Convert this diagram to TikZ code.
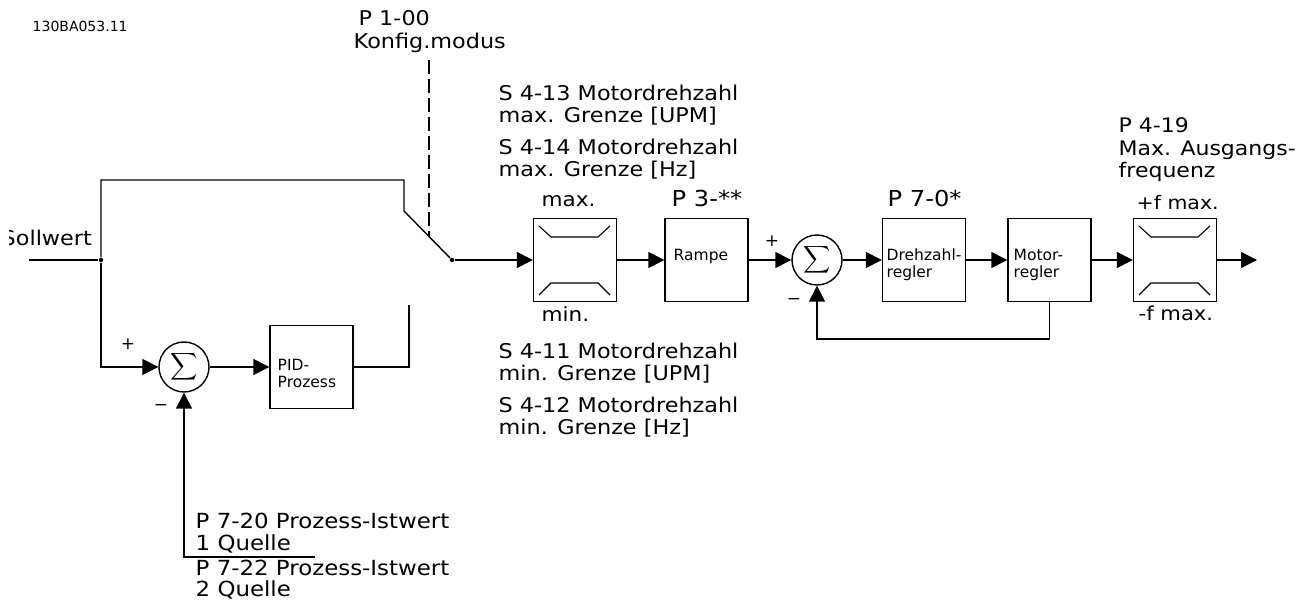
\documentclass[tikz,border=0pt]{standalone}
\usepackage{fontspec}
\usepackage{xcolor}
\usepackage{tikz}
\usetikzlibrary{arrows.meta, positioning, calc}
\newfontfamily\labelfont[FakeStretch=1.1]{DejaVu Sans}
\newfontfamily\blockfont{DejaVu Sans}
\newcommand{\sumsign}{\scalebox{1.9}{$\displaystyle\sum$}}

\begin{document}
\begin{tikzpicture}[
    x=1pt, y=-1pt,
    line width=1.4pt,
    block/.style={draw, minimum width=83pt, minimum height=83pt, inner sep=0pt},
    sumcircle/.style={draw, circle, minimum size=50pt, inner sep=0pt},
    dot/.style={fill, circle, minimum size=4.5pt, inner sep=0pt},
    arrow/.style={-{Triangle[length=16pt, width=16pt]}},
    lbl/.style={font=\labelfont\fontsize{#1}{22.7}\selectfont, align=left, inner sep=0pt, anchor=base west},
    lbl/.default=20.3,
    blocktext/.style={font=\blockfont\fontsize{15.5}{17}\selectfont, align=left, inner sep=0pt, anchor=west},
    sign/.style={font=\blockfont\fontsize{17}{17}\selectfont, inner sep=0pt}
]
    \useasboundingbox (0,0) rectangle (1296,601);

    % blocks
    \node[block] (pid) at (311.5,367) {};
    \node[block] (lima) at (575,260) {};
    \node[block] (rampe) at (706.5,260) {};
    \node[block] (dreh) at (924,260) {};
    \node[block] (motor) at (1049.5,260) {};
    \node[block] (limb) at (1175,260) {};
    \node[sumcircle] (suma) at (184,367) {\sumsign};
    \node[sumcircle] (sumb) at (817,260) {\sumsign};

    \node[blocktext] (pidtext) at (277,373) {PID-\\Prozess};
    \node[blocktext] (ramptext) at (673,256) {Rampe};
    \node[blocktext] (drehtext) at (886,265) {Drehzahl-\\regler};
    \node[blocktext] (motortext) at (1013,265) {Motor-\\regler};

    % limiter marks
    \foreach \lim in {lima, limb} {
        \draw[line width=1.1pt] ($(\lim.center)+(-36,-34)$) -- ++(12,11) -- ++(47,0) -- ++(12,-11);
        \draw[line width=1.1pt] ($(\lim.center)+(-36,35)$) -- ++(12,-12) -- ++(47,0) -- ++(12,12);
    }

    % switch
    \node[dot] (split) at (101,260) {};
    \node[dot] (swdot) at (452,260) {};
    \coordinate (input) at (29,260);
    \coordinate (swtop) at (404,180);
    \coordinate (swknee) at (404,211);
    \coordinate (dashtop) at (429,60);
    \coordinate (dashend) at (429,236);
    \coordinate (pidend) at (409,305);
    \coordinate (fbknee) at (817,339);
    \coordinate (istend) at (315,557);
    \coordinate (output) at (1257,260);

    \draw (input) -- (split);
    \draw (split) |- (swtop) -- (swknee) -- (swdot);
    \draw[dashed, dash pattern=on 14pt off 5pt, line width=1.2pt] (dashtop) -- (dashend);
    \draw[arrow] (swdot) -- (lima);
    \draw[arrow] (lima) -- (rampe);
    \draw[arrow] (rampe) -- (sumb);
    \draw[arrow] (sumb) -- (dreh);
    \draw[arrow] (dreh) -- (motor);
    \draw[arrow] (motor) -- (limb);
    \draw[arrow] (limb) -- (output);
    \draw[arrow] (split) |- (suma);
    \draw[arrow] (suma) -- (pid);
    \draw (pid) -| (pidend);
    \draw[arrow] (motor.south) |- (fbknee) -- (sumb.south);
    \draw[arrow] (istend) -| (suma.south);

    % labels
    \node[lbl, font=\blockfont\fontsize{14}{14}\selectfont] (docid) at (32,32) {130BA053.11};
    \node[lbl, anchor=north west] (konfig) at (353,10) {\hspace*{5pt}P 1-00\\Konfig.modus};
    \node[lbl, anchor=north west] (grenzea) at (498,84) {S 4-13 Motordrehzahl\\max. Grenze [UPM]};
    \node[lbl, anchor=north west] (grenzeb) at (498,138) {S 4-14 Motordrehzahl\\max. Grenze [Hz]};
    \node[lbl=19.6] (maxtext) at (541,207) {max.};
    \node[lbl=19.6] (mintext) at (541,322) {min.};
    \node[lbl=22] (rampar) at (671,207) {P 3-**};
    \node[lbl=22] (drehpar) at (887,207) {P 7-0*};
    \node[lbl, anchor=north west] (grenzec) at (498,342) {S 4-11 Motordrehzahl\\min. Grenze [UPM]};
    \node[lbl, anchor=north west] (grenzed) at (498,396) {S 4-12 Motordrehzahl\\min. Grenze [Hz]};
    \node[lbl=20, anchor=north west] (freq) at (1118,117) {P 4-19\\Max. Ausgangs-\\frequenz};
    \node[lbl=18.6] (fmax) at (1136,210) {+f max.};
    \node[lbl=19.2] (fmin) at (1138,321) {-f max.};
    \node[lbl=20.8, anchor=north west] (istwa) at (195,512) {P 7-20 Prozess-Istwert\\1 Quelle};
    \node[lbl=20.8, anchor=north west, font=\labelfont\fontsize{20.8}{21.5}\selectfont] (istwb) at (195,559) {P 7-22 Prozess-Istwert\\2 Quelle};
    \begin{scope}
        \clip (9,225) rectangle (100,255);
        \node[lbl] (soll) at (1,246) {Sollwert};
    \end{scope}

    \node[sign] (plusa) at (128,344) {+};
    \node[sign] (minusa) at (161,407) {−};
    \node[sign] (plusb) at (772,241) {+};
    \node[sign] (minusb) at (794,301) {−};
\end{tikzpicture}
\end{document}
